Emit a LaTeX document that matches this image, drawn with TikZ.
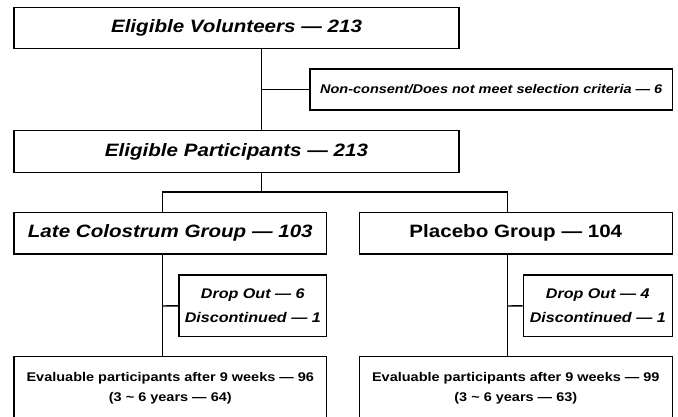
\documentclass[tikz,border=0pt]{standalone}
\usepackage{fontspec}
\setmainfont[FakeStretch=1.15]{Liberation Sans}
\begin{document}
\begin{tikzpicture}[x=1pt,y=-1pt,
  box/.style={draw, line width=1.4pt, inner sep=0pt, align=center},
  conn/.style={line width=1.4pt},
  bigi/.style={font=\fontsize{17.9}{21}\selectfont\bfseries\itshape},
  bigu/.style={font=\fontsize{17.9}{21}\selectfont\bfseries},
  sidef/.style={font=\fontsize{12.6}{15}\selectfont\bfseries\itshape},
  dropf/.style={font=\fontsize{14}{24}\selectfont\bfseries\itshape},
  evalf/.style={font=\fontsize{12.6}{19.6}\selectfont\bfseries}]
\useasboundingbox (0,0) rectangle (678,417);
\clip (0,0) rectangle (678,417);
\fill[white] (0,0) rectangle (678,417);

\node[box,bigi,minimum width=445pt,minimum height=41pt] (top) at (236.5,27.8) {Eligible Volunteers — 213};
\node[box,sidef,minimum width=362.3pt,minimum height=41pt] (side) at (491.2,89.5) {Non-consent/Does not meet selection criteria — 6};
\node[box,bigi,minimum width=445pt,minimum height=41.6pt] (part) at (236.5,151.5) {Eligible Participants — 213};
\node[box,bigi,minimum width=312.7pt,minimum height=41.3pt] (lcg) at (170.3,233.3) {Late Colostrum Group — 103};
\node[box,bigu,minimum width=313pt,minimum height=41.3pt] (plc) at (515.8,233.3) {Placebo Group — 104};
\node[box,dropf,minimum width=147.7pt,minimum height=61.7pt] (ldrop) at (252.8,305.8) {Drop Out — 6\\Discontinued — 1};
\node[box,dropf,minimum width=149pt,minimum height=61.7pt] (rdrop) at (597.8,305.8) {Drop Out — 4\\Discontinued — 1};
\node[box,evalf,minimum width=312.7pt,minimum height=63.3pt] (leval) at (170.3,388.3) {Evaluable participants after 9 weeks — 96\\(3 \textasciitilde{} 6 years — 64)};
\node[box,evalf,minimum width=313pt,minimum height=63.3pt] (reval) at (515.8,388.3) {Evaluable participants after 9 weeks — 99\\(3 \textasciitilde{} 6 years — 63)};

\coordinate (a) at (261.3,89.5);
\coordinate (b) at (261.3,192);
\coordinate (bl) at (162.3,192);
\coordinate (br) at (507.7,192);
\coordinate (cl) at (162.3,306);
\coordinate (cr) at (507.7,306);

\draw[conn] (a |- top.south) -- (a |- part.north);
\draw[conn] (a) -- (side.west);
\draw[conn] (b |- part.south) -- (b);
\draw[conn] (bl |- lcg.north) -- (bl) -- (br) -- (br |- plc.north);
\draw[conn] (cl |- lcg.south) -- (cl |- leval.north);
\draw[conn] (cl) -- (ldrop.west);
\draw[conn] (cr |- plc.south) -- (cr |- reval.north);
\draw[conn] (cr) -- (rdrop.west);
\end{tikzpicture}
\end{document}
